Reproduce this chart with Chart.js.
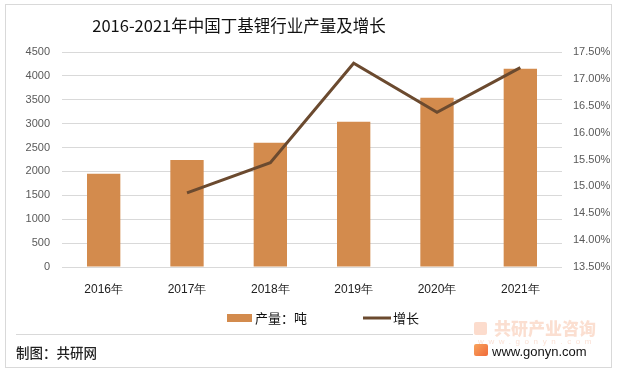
<!DOCTYPE html>
<html><head><meta charset="utf-8">
<script src="https://cdn.jsdelivr.net/npm/chart.js@4"></script>
<style>
html,body{margin:0;padding:0;background:#fff;}
#wrap{position:relative;width:618px;height:371px;overflow:hidden;}
#c{position:absolute;left:0;top:0;}
.frame{position:absolute;left:5px;top:4px;width:605px;height:362px;border:1px solid #D9D9D9;}
.sep{position:absolute;left:16px;top:334px;width:457px;height:1px;background:#D9D9D9;}
.title{position:absolute;left:40px;width:398px;top:14px;text-align:center;font-family:"Noto Sans CJK SC";font-size:16.5px;line-height:22px;color:#111;}
.src{position:absolute;left:16px;top:343px;font-family:"Noto Sans CJK SC";font-size:13.5px;line-height:18px;color:#222;font-weight:500;}
.url{position:absolute;left:492px;top:344px;font-family:"Liberation Sans";font-size:13px;line-height:16px;color:#111;}
.wm{position:absolute;left:494px;top:318px;font-family:"Noto Sans CJK SC";font-size:17px;line-height:20px;font-weight:900;color:rgba(240,140,90,0.28);}
.wm2{position:absolute;left:478px;top:337px;font-family:"Liberation Sans";font-size:8px;line-height:10px;color:rgba(240,150,110,0.3);letter-spacing:4.6px;}
.lg1{position:absolute;left:474px;top:322px;width:13px;height:13px;background:rgba(245,140,90,0.3);border-radius:2px;}
.lg2{position:absolute;left:474px;top:344px;width:14px;height:12px;background:linear-gradient(135deg,#f7a35c,#f06a3a);border-radius:2px;}
</style></head>
<body>
<div id="wrap">
<canvas id="c" width="618" height="371"></canvas>
<div class="frame"></div>
<div class="sep"></div>
<div class="title">2016-2021年中国丁基锂行业产量及增长</div>
<div class="lg1"></div>
<div class="wm">共研产业咨询</div>
<div class="wm2">www.gonyn.com</div>
<div class="lg2"></div>
<div class="url">www.gonyn.com</div>
<div class="src">制图：共研网</div>
</div>
<script>
const categories = ['2016年','2017年','2018年','2019年','2020年','2021年'];
const production = [1950, 2240, 2600, 3040, 3540, 4150];
const growth = [null, 14.88, 15.44, 17.29, 16.38, 17.21];
const seriesNames = ['产量：吨', '增长'];
const barColor = '#D38B4D';
const lineColor = '#6B4A2F';

const legendPlugin = {
  id: 'customLegend',
  afterDraw(chart) {
    const ctx = chart.ctx;
    const barDs = chart.data.datasets.find(d => d.type === 'bar');
    const lineDs = chart.data.datasets.find(d => d.type === 'line');
    const y = 318;
    let x = 227;
    ctx.save();
    ctx.font = '13px "Noto Sans CJK SC"';
    ctx.textBaseline = 'middle';
    ctx.fillStyle = barDs.backgroundColor;
    ctx.fillRect(x, y - 4, 25, 8);
    x += 28;
    ctx.fillStyle = '#111';
    ctx.fillText(barDs.label, x, y);
    x += ctx.measureText(barDs.label).width + 56;
    ctx.strokeStyle = lineDs.borderColor;
    ctx.lineWidth = 3;
    ctx.beginPath(); ctx.moveTo(x, y); ctx.lineTo(x + 28, y); ctx.stroke();
    x += 30;
    ctx.fillText(lineDs.label, x, y);
    ctx.restore();
  }
};

new Chart(document.getElementById('c'), {
  data: {
    labels: categories,
    datasets: [
      { type: 'line', label: seriesNames[1], data: growth, yAxisID: 'y1',
        borderColor: lineColor, backgroundColor: lineColor, borderWidth: 3,
        pointRadius: 0, tension: 0, order: 0 },
      { type: 'bar', label: seriesNames[0], data: production, yAxisID: 'y',
        backgroundColor: barColor, barPercentage: 0.8, categoryPercentage: 0.5, order: 1 }
    ]
  },
  options: {
    responsive: false,
    animation: false,
    layout: { padding: { top: 52, bottom: 68, left: 0, right: 0 } },
    plugins: { legend: { display: false }, title: { display: false }, tooltip: { enabled: false } },
    scales: {
      x: {
        grid: { display: false }, border: { display: false },
        ticks: { color: '#222', font: { family: 'Liberation Sans', size: 12 }, padding: 7, maxRotation: 0 },
        afterFit(s) { s.height = 36; }
      },
      y: {
        position: 'left', min: 0, max: 4500,
        grid: { color: '#D9D9D9', lineWidth: 1, drawTicks: false }, border: { display: false },
        ticks: { stepSize: 500, color: '#595959', font: { family: 'Liberation Sans', size: 11 }, padding: 12,
          callback: v => String(v) },
        afterFit(s) { s.width = 62; }
      },
      y1: {
        position: 'right', min: 13.5, max: 17.5,
        grid: { display: false, drawTicks: false }, border: { display: false },
        ticks: { stepSize: 0.5, color: '#595959', font: { family: 'Liberation Sans', size: 11 }, padding: 11,
          callback: v => v.toFixed(2) + '%' },
        afterFit(s) { s.width = 56; }
      }
    }
  },
  plugins: [legendPlugin]
});
</script>
</body></html>
